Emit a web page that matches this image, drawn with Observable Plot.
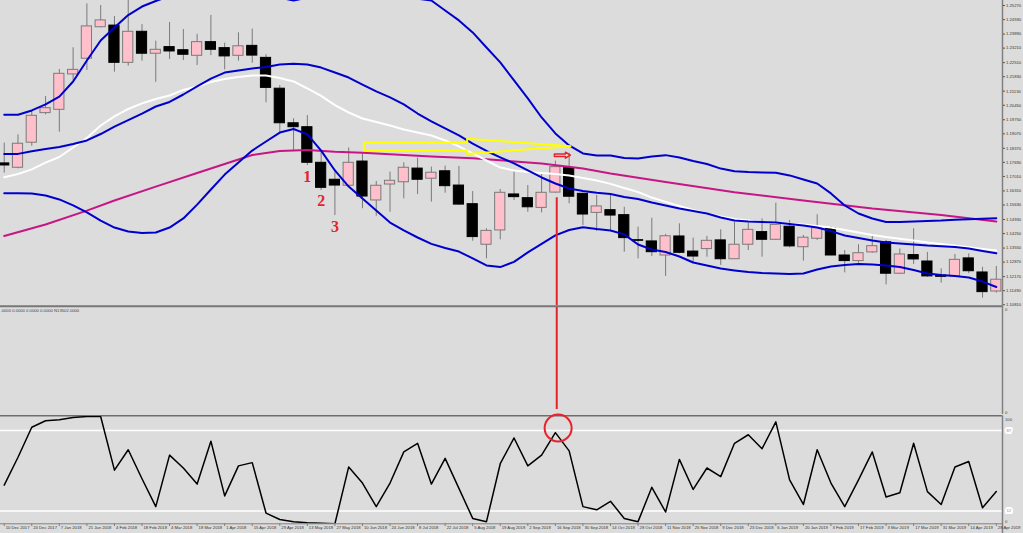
<!DOCTYPE html>
<html><head><meta charset="utf-8">
<script src="https://cdn.jsdelivr.net/npm/d3@7"></script>
<script src="https://cdn.jsdelivr.net/npm/@observablehq/plot@0.6"></script>
<style>
html,body{margin:0;padding:0;background:#dcdcdc;}
#chart{position:relative;width:1023px;height:533px;background:#dcdcdc;overflow:hidden;}
#chart svg{position:absolute;left:0;}
</style></head><body><div id="chart"></div>
<script>
// ---- weekly candles, 10 Dec 2017 .. 28 Apr 2019 ----
const open  = [1.1764,1.1743,1.1864,1.2007,1.2023,1.2194,1.2270,1.2422,1.2430,1.2250,1.2400,1.2294,1.2326,1.2311,1.2284,1.2350,1.2321,1.2284,1.2332,1.2274,1.2125,1.1958,1.1939,1.1767,1.1685,1.1656,1.1773,1.1585,1.1662,1.1673,1.1739,1.1690,1.1726,1.1657,1.1567,1.1371,1.1440,1.1614,1.1596,1.1549,1.1623,1.1741,1.1617,1.1525,1.1538,1.1514,1.1393,1.1387,1.1319,1.1411,1.1338,1.1350,1.1392,1.1301,1.1371,1.1432,1.1395,1.1458,1.1359,1.1400,1.1451,1.1319,1.1292,1.1334,1.1383,1.1231,1.1321,1.1290,1.1222,1.1218,1.1305,1.1237,1.1145];
const high  = [1.1862,1.1902,1.2020,1.2087,1.2218,1.2323,1.2535,1.2527,1.2474,1.2570,1.2435,1.2355,1.2445,1.2411,1.2388,1.2479,1.2345,1.2395,1.2413,1.2289,1.2140,1.1980,1.1995,1.1826,1.1730,1.1839,1.1810,1.1677,1.1722,1.1767,1.1789,1.1746,1.1751,1.1749,1.1628,1.1448,1.1638,1.1730,1.1657,1.1719,1.1775,1.1813,1.1620,1.1609,1.1617,1.1552,1.1456,1.1499,1.1421,1.1472,1.1403,1.1411,1.1443,1.1480,1.1475,1.1496,1.1572,1.1488,1.1416,1.1516,1.1459,1.1343,1.1371,1.1419,1.1392,1.1351,1.1448,1.1334,1.1255,1.1324,1.1327,1.1262,1.1266];
const low   = [1.1717,1.1738,1.1847,1.1999,1.1915,1.2165,1.2213,1.2419,1.2205,1.2234,1.2258,1.2156,1.2266,1.2261,1.2237,1.2285,1.2216,1.2258,1.2248,1.2057,1.1907,1.1826,1.1754,1.1633,1.1512,1.1652,1.1545,1.1509,1.1528,1.1593,1.1614,1.1577,1.1620,1.1561,1.1388,1.1303,1.1395,1.1585,1.1528,1.1525,1.1620,1.1569,1.1464,1.1435,1.1440,1.1335,1.1303,1.1314,1.1218,1.1327,1.1282,1.1311,1.1271,1.1300,1.1343,1.1311,1.1392,1.1356,1.1292,1.1392,1.1319,1.1235,1.1282,1.1330,1.1177,1.1227,1.1276,1.1214,1.1185,1.1214,1.1231,1.1113,1.1137];
const close = [1.1754,1.1859,1.1994,1.2031,1.2197,1.2216,1.2426,1.2455,1.2250,1.2400,1.2294,1.2313,1.2305,1.2289,1.2350,1.2313,1.2281,1.2330,1.2285,1.2129,1.1958,1.1939,1.1767,1.1646,1.1657,1.1767,1.1604,1.1656,1.1680,1.1743,1.1685,1.1719,1.1654,1.1565,1.1408,1.1438,1.1622,1.1601,1.1552,1.1622,1.1746,1.1603,1.1517,1.1556,1.1512,1.1403,1.1390,1.1335,1.1412,1.1332,1.1314,1.1390,1.1301,1.1371,1.1443,1.1395,1.1467,1.1363,1.1405,1.1451,1.1319,1.1292,1.1330,1.1364,1.1231,1.1324,1.1300,1.1218,1.1216,1.1298,1.1243,1.1142,1.1202];

// ---- indicators (one value per week) ----
const bbUpper = [1.1999,1.1999,1.2020,1.2049,1.2087,1.2160,1.2261,1.2358,1.2421,1.2481,1.2522,1.2549,1.2572,1.2590,1.2600,1.2605,1.2602,1.2595,1.2585,1.2575,1.2565,1.2551,1.2565,1.2578,1.2590,1.2600,1.2605,1.2602,1.2592,1.2575,1.2560,1.2551,1.2503,1.2455,1.2397,1.2324,1.2252,1.2165,1.2078,1.1986,1.1909,1.1851,1.1812,1.1802,1.1802,1.1790,1.1788,1.1797,1.1804,1.1793,1.1776,1.1761,1.1739,1.1726,1.1722,1.1720,1.1719,1.1706,1.1686,1.1667,1.1619,1.1561,1.1522,1.1498,1.1481,1.1481,1.1483,1.1486,1.1488,1.1492,1.1494,1.1497,1.1499];
const bbMiddle = [1.1810,1.1810,1.1823,1.1834,1.1843,1.1858,1.1875,1.1906,1.1942,1.1973,1.2005,1.2039,1.2061,1.2097,1.2136,1.2174,1.2203,1.2213,1.2223,1.2230,1.2242,1.2245,1.2242,1.2227,1.2203,1.2179,1.2145,1.2112,1.2083,1.2049,1.2005,1.1967,1.1933,1.1899,1.1860,1.1824,1.1793,1.1764,1.1730,1.1696,1.1667,1.1643,1.1631,1.1622,1.1616,1.1602,1.1592,1.1575,1.1561,1.1546,1.1534,1.1522,1.1503,1.1488,1.1483,1.1481,1.1479,1.1471,1.1464,1.1454,1.1437,1.1416,1.1404,1.1392,1.1382,1.1377,1.1372,1.1367,1.1364,1.1360,1.1353,1.1341,1.1330];
const bbLower = [1.1620,1.1620,1.1619,1.1609,1.1590,1.1561,1.1527,1.1488,1.1454,1.1435,1.1428,1.1430,1.1454,1.1498,1.1565,1.1638,1.1710,1.1768,1.1826,1.1870,1.1913,1.1930,1.1904,1.1826,1.1730,1.1652,1.1594,1.1536,1.1478,1.1440,1.1406,1.1375,1.1355,1.1338,1.1305,1.1271,1.1263,1.1288,1.1334,1.1375,1.1416,1.1442,1.1456,1.1447,1.1440,1.1421,1.1372,1.1348,1.1336,1.1314,1.1285,1.1271,1.1256,1.1247,1.1239,1.1234,1.1232,1.1230,1.1232,1.1251,1.1266,1.1273,1.1278,1.1276,1.1271,1.1263,1.1249,1.1232,1.1225,1.1220,1.1213,1.1193,1.1167];
const maWhite = [1.1697,1.1713,1.1735,1.1768,1.1795,1.1841,1.1887,1.1947,1.1991,1.2027,1.2054,1.2075,1.2092,1.2119,1.2136,1.2157,1.2172,1.2182,1.2189,1.2189,1.2177,1.2160,1.2126,1.2090,1.2046,1.2010,1.1981,1.1964,1.1947,1.1928,1.1913,1.1899,1.1875,1.1846,1.1812,1.1778,1.1744,1.1730,1.1723,1.1718,1.1713,1.1706,1.1694,1.1681,1.1665,1.1645,1.1626,1.1599,1.1578,1.1558,1.1539,1.1522,1.1507,1.1496,1.1488,1.1481,1.1476,1.1472,1.1469,1.1462,1.1454,1.1442,1.1430,1.1418,1.1408,1.1400,1.1392,1.1382,1.1375,1.1367,1.1359,1.1351,1.1343];
const maLongWeek  = [0,3,6,8,11,14,18,20,22,24,26,31,34,36,39,42,44,48,53,58,63,68,72];
const maLongValue = [1.1413,1.1469,1.1536,1.1585,1.1652,1.1718,1.1805,1.1824,1.1829,1.1820,1.1815,1.1797,1.1789,1.1779,1.1764,1.1739,1.1715,1.1674,1.1625,1.1585,1.1546,1.1515,1.1483];
const stoch = [36,62,90,96,97,99,100,100,50,69,42,16,64,52,37,77,26,54,57,10,4,2,1,0.5,0,53,38,16,38,67,75,37,61,33,5,2,56,80,54,64,85,68,16,13,21,5,2,34,11,60,32,52,44,75,83,70,95,41,18,69,38,16,41,67,25,29,75,30,18,53,58,15,30];
const stochLevels = [87, 12];

// ---- axis labels ----
const priceTicks = [1.25270,1.24590,1.23890,1.23210,1.22510,1.21830,1.21130,1.20450,1.19750,1.19070,1.18370,1.17690,1.17010,1.16310,1.15630,1.14930,1.14250,1.13550,1.12870,1.12170,1.11490,1.10810];
const dateLabels = ["10 Dec 2017","24 Dec 2017","7 Jan 2018","21 Jan 2018","4 Feb 2018","18 Feb 2018","4 Mar 2018","18 Mar 2018","1 Apr 2018","15 Apr 2018","29 Apr 2018","13 May 2018","27 May 2018","10 Jun 2018","24 Jun 2018","8 Jul 2018","22 Jul 2018","5 Aug 2018","19 Aug 2018","2 Sep 2018","16 Sep 2018","30 Sep 2018","14 Oct 2018","28 Oct 2018","11 Nov 2018","25 Nov 2018","9 Dec 2018","23 Dec 2018","6 Jan 2019","20 Jan 2019","3 Feb 2019","17 Feb 2019","3 Mar 2019","17 Mar 2019","31 Mar 2019","14 Apr 2019","28 Apr 2019"];
const subHeader = ".0000 0.0000 0.0000 0.0000 N13502.0000";

// ---- annotations (week index, price) ----
const waveLabels = [{i:22, p:1.1701, t:"1"}, {i:23, p:1.1585, t:"2"}, {i:24, p:1.1459, t:"3"}];
const yellowArrow = [[26.1,1.1864],[33.6,1.1864],[33.6,1.1883],[41.1,1.1847],[33.6,1.1810],[33.6,1.1826],[26.1,1.1826],[26.1,1.1864]];
const redArrow = [[39.93,1.1810],[40.73,1.1810],[40.73,1.1818],[41.09,1.1804],[40.73,1.1789],[40.73,1.1797],[39.93,1.1797],[39.93,1.1810]];
const signalWeek = 40.1, signalPrice = 1.1598, signalStoch = 89.3;

// ---- layout ----
const W = 1023, MR = 21;
const X_DOMAIN = [-0.27, 72.45];
const AX = X_DOMAIN[1];
const GRID = "#808080", RED = "#e5232b", BLUE = "#0000cd";
const FONT = "'Liberation Sans', Arial, sans-serif";
const baseStyle = {background: "transparent", fontFamily: FONT, color: "#333", overflow: "visible"};

const candles = open.map((o, i) => ({i, o, h: high[i], l: low[i], c: close[i], up: close[i] >= o}));
const series = arr => arr.map((v, i) => ({i, v}));
const maLong = maLongWeek.map((i, k) => ({i, v: maLongValue[k]}));
const root = document.getElementById("chart");

// Panel 1: price
const p1 = Plot.plot({
  width: W, height: 305, marginLeft: 0, marginRight: MR, marginTop: 0, marginBottom: 0,
  x: {domain: X_DOMAIN, axis: null},
  y: {domain: [1.10774, 1.25512], axis: null},
  style: baseStyle,
  marks: [
    Plot.ruleX(candles, {x: "i", y1: "l", y2: "h", stroke: "#7a7a7a", strokeWidth: 1, clip: true}),
    Plot.rect(candles, {x1: d => d.i - 0.37, x2: d => d.i + 0.37, y1: "o", y2: "c",
      fill: d => d.up ? "#ffc0cb" : "#000", stroke: d => d.up ? "#7a7a7a" : "#000", strokeWidth: 1}),
    Plot.line(maLong, {x: "i", y: "v", stroke: "#c71585", strokeWidth: 2, clip: true}),
    Plot.line(series(maWhite), {x: "i", y: "v", stroke: "#ffffff", strokeWidth: 2, clip: true}),
    Plot.line(series(bbUpper), {x: "i", y: "v", stroke: BLUE, strokeWidth: 2, clip: true}),
    Plot.line(series(bbMiddle), {x: "i", y: "v", stroke: BLUE, strokeWidth: 2, clip: true}),
    Plot.line(series(bbLower), {x: "i", y: "v", stroke: BLUE, strokeWidth: 2, clip: true}),
    Plot.line(yellowArrow, {x: d => d[0], y: d => d[1], stroke: "#ffff00", strokeWidth: 2}),
    Plot.line(redArrow, {x: d => d[0], y: d => d[1], stroke: RED, strokeWidth: 1.5}),
    Plot.ruleX([signalWeek], {y1: signalPrice, y2: 1.10774, stroke: RED, strokeWidth: 2}),
    Plot.text(waveLabels, {x: "i", y: "p", text: "t", fill: RED, fontSize: 16, fontWeight: "bold", fontFamily: "'Liberation Serif', 'DejaVu Serif', serif"}),
    Plot.ruleX([AX], {stroke: GRID, strokeWidth: 1.5}),
    Plot.axisY(priceTicks, {anchor: "right", tickSize: 2, tickPadding: 1.5, tickFormat: d => d.toFixed(5), fontSize: 4.2, stroke: "#555"})
  ]
});
p1.style.top = "0px";
root.appendChild(p1);

// Panel 2: empty indicator window
const p2 = Plot.plot({
  width: W, height: 109, marginLeft: 0, marginRight: MR, marginTop: 0, marginBottom: 0,
  x: {domain: X_DOMAIN, axis: null},
  y: {domain: [109, 0], range: [109, 0], axis: null},
  style: baseStyle,
  marks: [
    Plot.ruleY([0.8], {stroke: "#777", strokeWidth: 2}),
    Plot.text([subHeader], {x: X_DOMAIN[0], y: 5.3, text: d => d, textAnchor: "start", dx: 0, fontSize: 4.2, fill: "#444"}),
    Plot.ruleX([signalWeek], {y1: 2, y2: 104, stroke: RED, strokeWidth: 2}),
    Plot.ruleX([AX], {stroke: GRID, strokeWidth: 1.5}),
    Plot.text(["0", "0"], {x: AX, y: (d, k) => k === 0 ? 4.3 : 107.3, text: d => d, dx: 2.5, textAnchor: "start", fontSize: 4.2, fill: "#444"})
  ]
});
p2.style.top = "305px";
root.appendChild(p2);

// Panel 3: stochastic + date axis
const tickWeeks = dateLabels.map((_, k) => 2 * k);
const p3 = Plot.plot({
  width: W, height: 119, marginLeft: 0, marginRight: MR, marginTop: 2, marginBottom: 9.7,
  x: {domain: X_DOMAIN, axis: null},
  y: {domain: [0, 100], axis: null},
  style: baseStyle,
  marks: [
    Plot.ruleY([100.65], {stroke: "#6e6e6e", strokeWidth: 1.5}),
    Plot.ruleY(stochLevels, {stroke: "#ffffff", strokeWidth: 1.5}),
    Plot.ruleY([0], {stroke: GRID, strokeWidth: 1}),
    Plot.line(series(stoch), {x: "i", y: "v", stroke: "#000", strokeWidth: 1.5, clip: true}),
    Plot.dot([signalWeek], {x: d => d + 0.1, y: signalStoch, r: 13.5, stroke: RED, strokeWidth: 2, fill: "none"}),
    Plot.ruleX([AX], {y1: 100.65, y2: -9, stroke: GRID, strokeWidth: 1.5}),
    Plot.ruleX(tickWeeks, {x: d => d, y1: 0, y2: -2.6, stroke: GRID, strokeWidth: 1}),
    Plot.text(dateLabels, {x: (d, k) => tickWeeks[k], y: -4, text: d => d, dx: 1.5, textAnchor: "start", fontSize: 4.2, fill: "#333"}),
    Plot.text(["100"], {x: AX, y: 100, text: d => d, dx: 2.5, dy: 3, textAnchor: "start", fontSize: 4.2, fill: "#444"}),
    Plot.text(stochLevels, {x: AX, y: d => d, text: d => String(d), dx: 4, textAnchor: "start", fontSize: 4.2, fill: "#bbb", stroke: "#fff", strokeWidth: 4}),
    Plot.text(stochLevels, {x: AX, y: d => d, text: d => String(d), dx: 4, textAnchor: "start", fontSize: 4.2, fill: "#bbb"}),
    Plot.text(["0"], {x: AX, y: 0, text: d => d, dx: 2.5, dy: -2.3, textAnchor: "start", fontSize: 4.2, fill: "#444"})
  ]
});
p3.style.top = "414px";
root.appendChild(p3);
</script>
</body></html>
